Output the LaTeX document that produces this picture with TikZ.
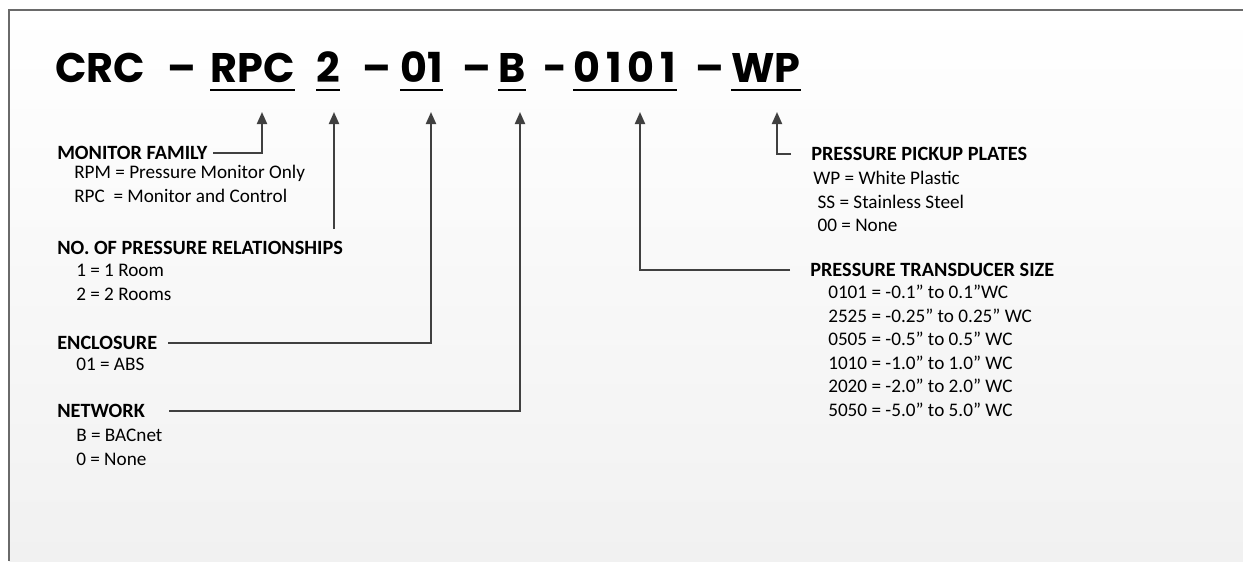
\documentclass[tikz,border=0pt]{standalone}
\usepackage{fontspec}
\setmainfont{Carlito}
\newfontfamily\codefont{Poppins}
\usetikzlibrary{arrows.meta, positioning, calc}
\definecolor{LineGray}{HTML}{404040}
\definecolor{FrameGray}{HTML}{6A6A6A}
\definecolor{PanelBottom}{HTML}{F1F1F1}

\tikzset{
  code/.style={font=\codefont\bfseries\fontsize{31}{31}\selectfont, inner sep=0pt, anchor=base west},
  uline/.style={line width=2.2pt, black},
  head/.style={font=\bfseries\fontsize{15.2}{18}\selectfont, inner sep=0pt, anchor=west},
  items/.style={font=\fontsize{14.4}{17.6}\selectfont, align=left, inner sep=0pt, anchor=north west},
  conn/.style={draw=LineGray, line width=1.5pt},
  pointer/.style={conn, -{Triangle[length=9pt,width=7.5pt]}},
}

\begin{document}
\begin{tikzpicture}[x=0.75pt, y=-0.75pt]
    \useasboundingbox (0,0) rectangle (1243,561);
    % panel with soft shading
    \fill[top color=white, bottom color=PanelBottom] (9,10) rectangle (1243,561);
    \draw[FrameGray, line width=1pt] (9,561) -- (9,10) -- (1243,10);

    % model code
    \node[code] (crc) at (55,82) {CRC};
    \node[code] (d1) at (167,82) {\textendash};
    \node[code] (rpc) at (210,82) {RPC};
    \node[code] (two) at (316,82) {2};
    \node[code] (d2) at (362,82) {\textendash};
    \node[code] (o1) at (400,82) {01};
    \node[code] (d3) at (462,82) {\textendash};
    \node[code] (b) at (498,82) {B};
    \node[code] (d4) at (543,82) {-};
    \node[code] (tsz) at (573,82) {0\hspace{4.5pt}1\hspace{4.5pt}0\hspace{4.5pt}1};
    \node[code] (d5) at (695,82) {\textendash};
    \node[code] (wp) at (731,82) {WP};
    \foreach \seg in {rpc,two,o1,b,tsz,wp}
        \draw[uline] ([yshift=-6pt]\seg.base west) -- ([yshift=-6pt]\seg.base east);

    % arrow tips under the code
    \coordinate (tipRPC) at (262,112);
    \coordinate (tipTwo) at (334,112);
    \coordinate (tipO1) at (431,112);
    \coordinate (tipB) at (520,112);
    \coordinate (tipTsz) at (640,112);
    \coordinate (tipWP) at (777,112);

    % left column
    \node[head] (fam) at (57,153) {MONITOR FAMILY};
    \node[items] (famlist) at (74,165) {RPM = Pressure Monitor Only\\RPC\ \ = Monitor and Control};
    \node[head] (rel) at (57,248) {NO. OF PRESSURE RELATIONSHIPS};
    \node[items] (rellist) at (76,264) {1 = 1 Room\\2 = 2 Rooms};
    \node[head] (encl) at (57,343) {ENCLOSURE};
    \node[items] (encllist) at (76,358) {01 = ABS};
    \node[head] (net) at (57,411) {NETWORK};
    \node[items] (netlist) at (76,429) {B = BACnet\\0 = None};

    % right column
    \node[head] (pick) at (811,154) {PRESSURE PICKUP PLATES};
    \node[items] (picklist) at (813,171) {WP = White Plastic\\\ SS = Stainless Steel\\\ 00 = None};
    \node[head] (tsize) at (810,270) {PRESSURE TRANSDUCER SIZE};
    \node[items] (tsizelist) at (828,285) {0101 = -0.1" to 0.1"WC\\2525 = -0.25" to 0.25" WC\\0505 = -0.5" to 0.5" WC\\1010 = -1.0" to 1.0" WC\\2020 = -2.0" to 2.0" WC\\5050 = -5.0" to 5.0" WC};

    % connectors
    \draw[pointer] ([xshift=4pt]fam.east) -| (tipRPC);
    \draw[pointer] ($(rel.north -| tipTwo)+(0,-12)$) -- (tipTwo);
    \draw[pointer] ([xshift=8pt]encl.east) -| (tipO1);
    \draw[pointer] ([xshift=18pt]net.east) -| (tipB);
    \draw[pointer] ([xshift=-15pt]tsize.west) -| (tipTsz);
    \draw[pointer] ([xshift=-15pt]pick.west) -| (tipWP);
\end{tikzpicture}
\end{document}
